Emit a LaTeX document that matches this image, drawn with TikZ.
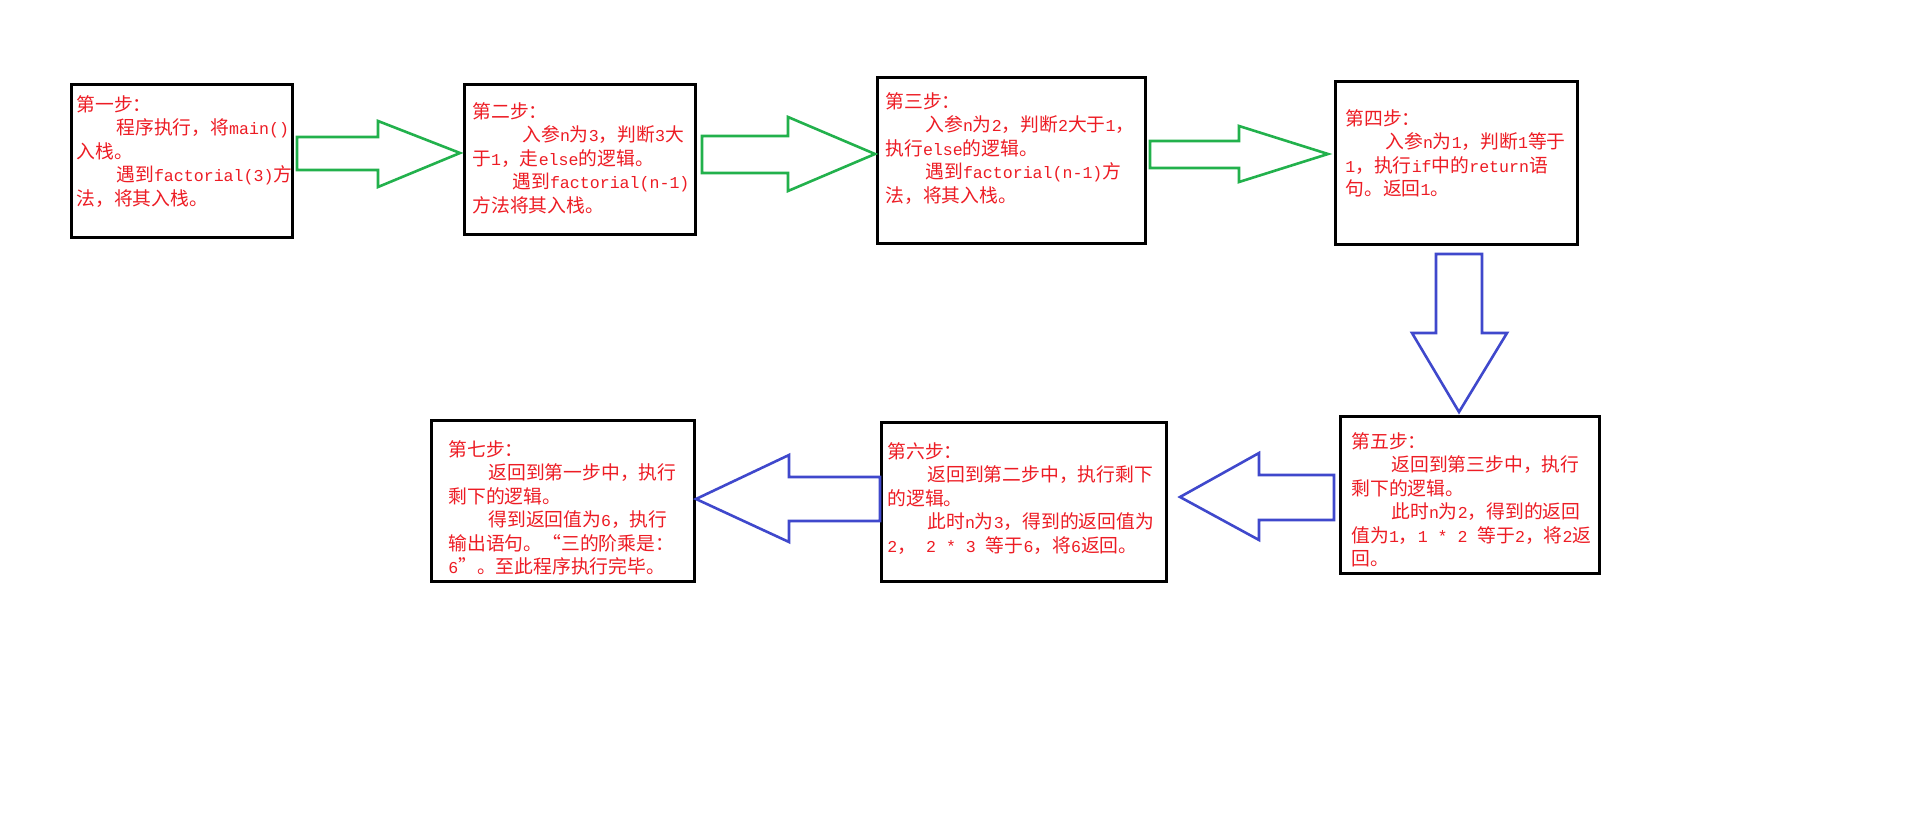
\documentclass[tikz,border=0pt]{standalone}
\usepackage{fontspec}
\setmainfont{Noto Sans CJK SC}
\newfontfamily\ascfont{Liberation Mono}
\newcommand\asc[1]{{\ascfont\fontsize{8.3}{11.75}\selectfont #1}}
\newcommand\ind{\hspace*{20pt}}
\definecolor{txtred}{RGB}{237,28,36}
\definecolor{pgreen}{RGB}{34,177,76}
\definecolor{pblue}{RGB}{63,72,204}
\begin{document}
\begin{tikzpicture}[x=0.5pt,y=-0.5pt,
  box/.style={draw=black, line width=1.5pt, fill=white, inner sep=0pt},
  txt/.style={anchor=north west, inner sep=0pt, align=left, text=txtred,
    font=\fontsize{9.4}{11.75}\selectfont},
  garrow/.style={draw=pgreen, line width=1.3pt},
  barrow/.style={draw=pblue, line width=1.3pt}]
\path[use as bounding box, fill=white] (0,0) rectangle (1914,818);

\node[box, minimum width=110.5pt, minimum height=76pt] (b1) at (181.5,161) {};
\node[box, minimum width=115.5pt, minimum height=74.5pt] (b2) at (579.5,159.5) {};
\node[box, minimum width=134pt, minimum height=82.5pt] (b3) at (1011,160.5) {};
\node[box, minimum width=121pt, minimum height=81pt] (b4) at (1456,163) {};
\node[box, minimum width=129.5pt, minimum height=78.5pt] (b5) at (1469.5,494.5) {};
\node[box, minimum width=142.5pt, minimum height=79.5pt] (b6) at (1023.5,501.5) {};
\node[box, minimum width=131.5pt, minimum height=80.5pt] (b7) at (562.5,500.5) {};

\node[txt] (t1) at (76,95) {第一步：\\\ind 程序执行，将\asc{main()}\\入栈。\\\ind 遇到\asc{factorial(3)}方\\法，将其入栈。};
\node[txt] (t2) at (472,102) {第二步：\\\hspace*{25pt}入参\asc{n}为\asc{3}，判断\asc{3}大\\于\asc{1}，走\asc{else}的逻辑。\\\ind 遇到\asc{factorial(n-1)}\\方法将其入栈。};
\node[txt] (t3) at (885,92) {第三步：\\\ind 入参\asc{n}为\asc{2}，判断\asc{2}大于\asc{1}，\\执行\asc{else}的逻辑。\\\ind 遇到\asc{factorial(n-1)}方\\法，将其入栈。};
\node[txt] (t4) at (1345,109) {第四步：\\\ind 入参\asc{n}为\asc{1}，判断\asc{1}等于\\\asc{1}，执行\asc{if}中的\asc{return}语\\句。返回\asc{1}。};
\node[txt] (t5) at (1351,432) {第五步：\\\ind 返回到第三步中，执行\\剩下的逻辑。\\\ind 此时\asc{n}为\asc{2}，得到的返回\\值为\asc{1}，\asc{1 * 2 }等于\asc{2}，将\asc{2}返\\回。};
\node[txt] (t6) at (887,442) {第六步：\\\ind 返回到第二步中，执行剩下\\的逻辑。\\\ind 此时\asc{n}为\asc{3}，得到的返回值为\\\asc{2}，\asc{ 2 * 3 }等于\asc{6}，将\asc{6}返回。};
\node[txt] (t7) at (448,440) {第七步：\\\ind 返回到第一步中，执行\\剩下的逻辑。\\\ind 得到返回值为\asc{6}，执行\\输出语句。“三的阶乘是：\\\asc{6}”。至此程序执行完毕。};

\draw[garrow] (297,137) -- (378,137) -- (378,121) -- (460,153) -- (378,187) -- (378,170) -- (297,170) -- cycle;
\draw[garrow] (702,136) -- (788,136) -- (788,117) -- (875,154) -- (788,191) -- (788,173) -- (702,173) -- cycle;
\draw[garrow] (1150,141) -- (1239,141) -- (1239,126) -- (1328,154) -- (1239,182) -- (1239,168) -- (1150,168) -- cycle;
\draw[barrow] (1436,254) -- (1482,254) -- (1482,333) -- (1507,333) -- (1459,412) -- (1412,333) -- (1436,333) -- cycle;
\draw[barrow] (1334,475) -- (1259,475) -- (1259,453) -- (1180,497) -- (1259,540) -- (1259,520) -- (1334,520) -- cycle;
\draw[barrow] (880,477) -- (789,477) -- (789,455) -- (696,499) -- (789,542) -- (789,521) -- (880,521) -- cycle;
\end{tikzpicture}
\end{document}
